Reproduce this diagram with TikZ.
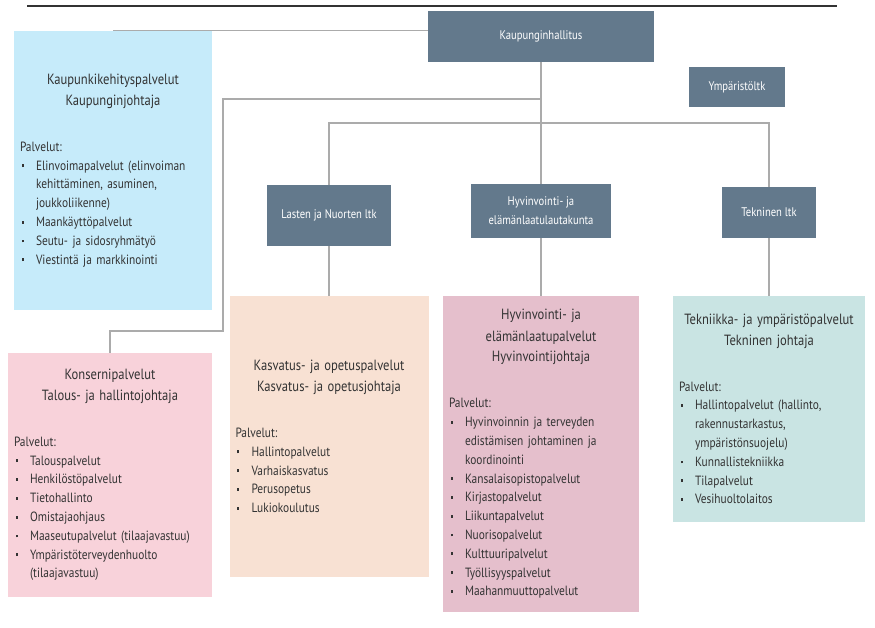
\documentclass[tikz,border=0pt]{standalone}
\usepackage{fontspec}
\setmainfont[FakeStretch=0.85]{PT Sans}
\definecolor{harmaa}{HTML}{63798C}
\definecolor{vaaleansininen}{HTML}{C6EBFA}
\definecolor{roosa}{HTML}{F8D2DA}
\definecolor{persikka}{HTML}{F8E1D3}
\definecolor{malva}{HTML}{E5BFCC}
\definecolor{turkoosi}{HTML}{C9E4E3}
\definecolor{viiva}{HTML}{ABABAB}
\definecolor{teksti}{HTML}{333333}
\newcommand{\otsikko}[1]{{\centering\fontsize{14.8}{21}\selectfont #1\par}\vspace{27pt}}
\newcommand{\kohta}[1]{\par\hangindent=16pt\hangafter=1\noindent\makebox[16pt][l]{\hspace{1.5pt}\rule[3pt]{2.4pt}{2.8pt}}#1\par}
\begin{document}
\begin{tikzpicture}[x=1pt,y=-1pt,
  elin/.style={fill=harmaa,text=white,align=center,inner sep=0pt,
    font=\fontsize{12.5}{19}\selectfont},
  yksikko/.style={inner xsep=6pt,inner ysep=0pt,align=left,text=teksti,
    font=\fontsize{13.4}{18.8}\selectfont},
  yhteys/.style={draw=viiva,line width=1.2pt}]
\useasboundingbox (0,0) rectangle (875,628);
\draw[line width=1.2pt,black!80] (27,6) -- (837,6);
% luottamuselimet
\node[elin,minimum width=226pt,minimum height=51pt] (hall) at (541,36.5) {Kaupunginhallitus};
\node[elin,minimum width=96pt,minimum height=40pt] (ymp) at (737,87) {Ympäristöltk};
\node[elin,minimum width=124pt,minimum height=61pt] (lasten) at (329,215.5) {Lasten ja Nuorten ltk};
\node[elin,minimum width=140pt,minimum height=54pt] (hyvltk) at (541,211) {Hyvinvointi- ja\\elämänlaatulautakunta};
\node[elin,minimum width=94pt,minimum height=51pt] (tekltk) at (769,212.5) {Tekninen ltk};
% palvelualueet
\node[yksikko,fill=vaaleansininen,minimum width=198pt,minimum height=279pt,text width=186pt] (kehitys) at (113,170.5)
  {\otsikko{Kaupunkikehityspalvelut\\Kaupunginjohtaja}Palvelut:
   \kohta{Elinvoimapalvelut (elinvoiman\newline kehittäminen, asuminen,\newline joukkoliikenne)}
   \kohta{Maankäyttöpalvelut}
   \kohta{Seutu- ja sidosryhmätyö}
   \kohta{Viestintä ja markkinointi}};
\node[yksikko,fill=roosa,minimum width=204pt,minimum height=244pt,text width=192pt] (konserni) at (110,475)
  {\otsikko{Konsernipalvelut\\Talous- ja hallintojohtaja}Palvelut:
   \kohta{Talouspalvelut}
   \kohta{Henkilöstöpalvelut}
   \kohta{Tietohallinto}
   \kohta{Omistajaohjaus}
   \kohta{Maaseutupalvelut (tilaajavastuu)}
   \kohta{Ympäristöterveydenhuolto\newline (tilaajavastuu)}};
\node[yksikko,fill=persikka,minimum width=199pt,minimum height=281pt,text width=187pt] (kasvatus) at (329,436.5)
  {\otsikko{Kasvatus- ja opetuspalvelut\\Kasvatus- ja opetusjohtaja}Palvelut:
   \kohta{Hallintopalvelut}
   \kohta{Varhaiskasvatus}
   \kohta{Perusopetus}
   \kohta{Lukiokoulutus}};
\node[yksikko,fill=malva,minimum width=196pt,minimum height=316pt,text width=184pt] (hyvin) at (541,454)
  {\otsikko{Hyvinvointi- ja\\elämänlaatupalvelut\\Hyvinvointijohtaja}Palvelut:
   \kohta{Hyvinvoinnin ja terveyden\newline edistämisen johtaminen ja\newline koordinointi}
   \kohta{Kansalaisopistopalvelut}
   \kohta{Kirjastopalvelut}
   \kohta{Liikuntapalvelut}
   \kohta{Nuorisopalvelut}
   \kohta{Kulttuuripalvelut}
   \kohta{Työllisyyspalvelut}
   \kohta{Maahanmuuttopalvelut}};
\node[yksikko,fill=turkoosi,minimum width=192pt,minimum height=226pt,text width=180pt] (tekniikka) at (769,409)
  {\otsikko{Tekniikka- ja ympäristöpalvelut\\Tekninen johtaja}Palvelut:
   \kohta{Hallintopalvelut (hallinto,\newline rakennustarkastus,\newline ympäristönsuojelu)}
   \kohta{Kunnallistekniikka}
   \kohta{Tilapalvelut}
   \kohta{Vesihuoltolaitos}};
% yhteydet
\coordinate (haara) at (541,123);
\coordinate (konsernihaara) at (541,99);
\coordinate (kulma) at (223,331);
\draw[yhteys] (kehitys.north) -- (kehitys.north -| hall.west);
\draw[yhteys] (hall.south) -- (hyvltk.north);
\draw[yhteys] (lasten.north) |- (haara) -| (tekltk.north);
\draw[yhteys] (konsernihaara) -| (kulma) -| (konserni.north);
\draw[yhteys] (lasten.south) -- (kasvatus.north);
\draw[yhteys] (hyvltk.south) -- (hyvin.north);
\draw[yhteys] (tekltk.south) -- (tekniikka.north);
\end{tikzpicture}
\end{document}
